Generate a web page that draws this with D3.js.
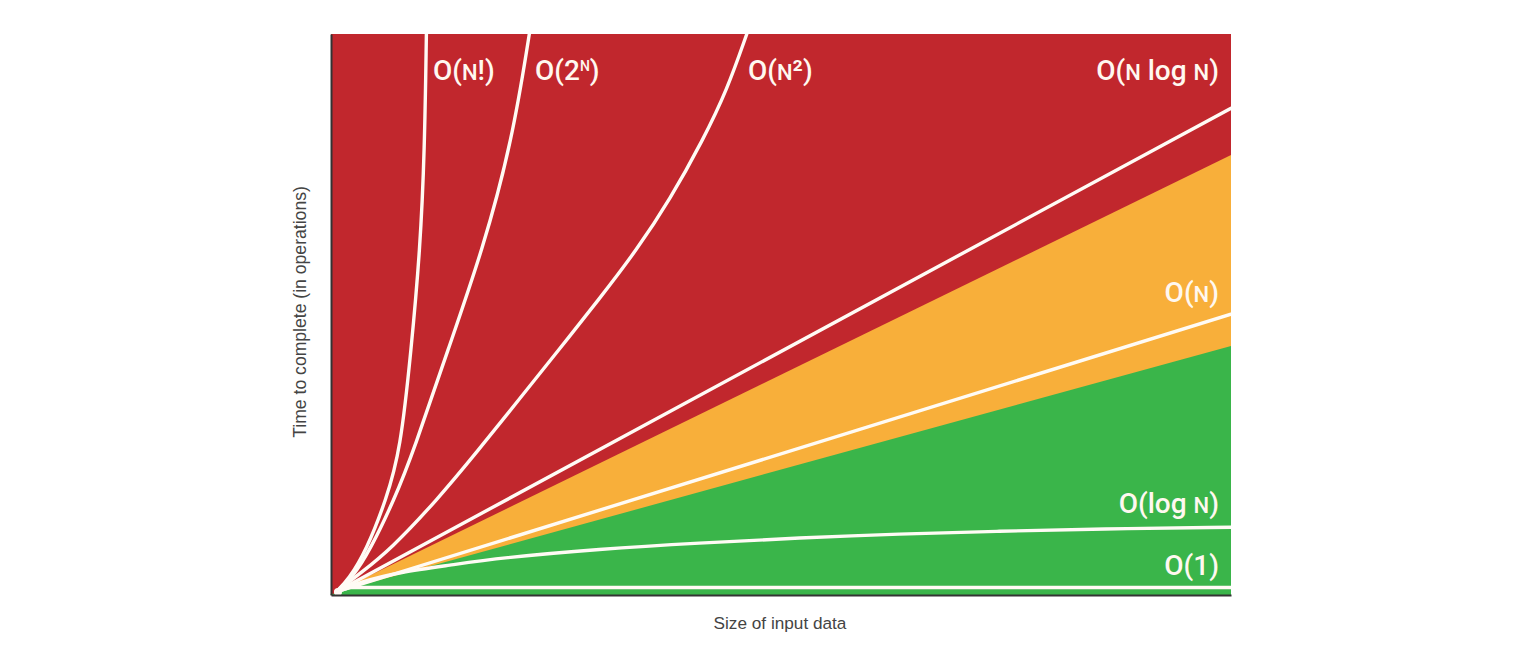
<!DOCTYPE html>
<html><head><meta charset="utf-8">
<script src="https://cdn.jsdelivr.net/npm/d3@7"></script>
<style>html,body{margin:0;padding:0;background:#fff;}svg{display:block;}</style>
</head><body>
<svg id="chart" width="1536" height="666"></svg>
<script>
// Data (x: relative input size 0-100, y: relative operations 0-100)
const bandBoundaries = [ // straight boundaries of coloured zones at x=100
  {name: "red/orange", end: 78.3},
  {name: "orange/green", end: 44.1}
];
const curveNames = ["O(N!)", "O(2^N)", "O(N^2)", "O(N log N)", "O(N)", "O(log N)", "O(1)"];
const factorialPts = [[0,0],[1.4,2.2],[3.4,7.5],[5.6,16.5],[7.2,25.4],[8.4,43.4],[9.4,61.3],[9.9,79.2],[10.1,100]];
const exponentialPts = [[0,0],[1.8,2.5],[3.8,7.5],[6.5,16.5],[8.7,25.4],[12.5,43.4],[16.4,61.3],[19.7,81.0],[21.6,100]];
const quadraticPts = [[0,0],[2.9,3.6],[6.0,7.5],[11.3,16.5],[15.9,25.4],[20.4,34.4],[24.9,43.4],[29.5,52.7],[33.6,61.3],[37.3,70.3],[41.0,81.0],[43.7,90.0],[45.9,100]];
const nlognPts = [[0,0],[100,86.7]];
const linearPts = [[0,0],[100,49.8]];
const logPts = [[0,0],[2.7,1.8],[7.2,3.6],[12.7,4.8],[18.3,6.1],[29.4,7.7],[40.6,8.8],[51.8,9.7],[62.9,10.4],[74.1,10.9],[85.3,11.3],[100,11.6]];
const constantPts = [[0,0],[1.5,0.8],[100,0.8]];

const svg = d3.select("#chart");
const x = d3.scaleLinear().domain([0,100]).range([336,1231]);
const y = d3.scaleLinear().domain([0,100]).range([592,34]);
const plotLeft = 331, plotRight = 1231, plotTop = 34, plotBottom = 595;

const RED = "#C1272D", ORANGE = "#F8AF3A", GREEN = "#3AB54A";

svg.append("rect").attr("x", plotLeft).attr("y", plotTop)
  .attr("width", plotRight - plotLeft).attr("height", plotBottom - plotTop).attr("fill", RED);

const zoneArea = d3.area().x(d => x(d[0])).y0(plotBottom).y1(d => y(d[1]));
svg.append("path").datum([[0,0],[100,bandBoundaries[0].end]]).attr("d", zoneArea).attr("fill", ORANGE);
svg.append("path").datum([[0,0],[100,bandBoundaries[1].end]]).attr("d", zoneArea).attr("fill", GREEN);
svg.append("path").datum([[-0.6,-0.3],[100,-0.3]]).attr("d", zoneArea).attr("fill", GREEN);

const smooth = d3.line().x(d => x(d[0])).y(d => y(d[1])).curve(d3.curveBasis);
const straight = d3.line().x(d => x(d[0])).y(d => y(d[1]));
svg.append("clipPath").attr("id","clip").append("rect")
  .attr("x", plotLeft).attr("y", plotTop).attr("width", plotRight-plotLeft).attr("height", plotBottom-plotTop);
const curves = [
  {pts: factorialPts, gen: smooth}, {pts: exponentialPts, gen: smooth}, {pts: quadraticPts, gen: smooth},
  {pts: nlognPts, gen: straight}, {pts: linearPts, gen: straight}, {pts: logPts, gen: smooth},
  {pts: constantPts, gen: straight}
];
svg.append("g").attr("clip-path","url(#clip)").selectAll("path").data(curves).join("path")
  .attr("d", d => d.gen(d.pts)).attr("fill","none").attr("stroke","#FFFBF5").attr("stroke-width",3.4)
  .attr("stroke-linecap","round").attr("stroke-linejoin","round");
svg.append("circle").attr("cx", x(0)+2).attr("cy", y(0)).attr("r", 4).attr("fill","#FFFBF5");

svg.append("g").attr("transform", `translate(${plotLeft},0)`)
  .call(d3.axisLeft(d3.scaleLinear().range([plotTop, plotBottom])).tickValues([]).tickSizeOuter(0))
  .select(".domain").attr("stroke","#333").attr("stroke-width",2);
svg.append("g").attr("transform", `translate(0,${plotBottom})`)
  .call(d3.axisBottom(d3.scaleLinear().range([plotLeft, plotRight])).tickValues([]).tickSizeOuter(0))
  .select(".domain").attr("stroke","#333").attr("stroke-width",2);

const font = "Roboto, 'Noto Sans', sans-serif";
function label(parts, px, py, anchor) {
  const t = svg.append("text").attr("x", px).attr("y", py).attr("text-anchor", anchor)
    .attr("font-family", font).attr("font-size", 28).attr("font-weight", 500).attr("fill", "#FFF8F0");
  parts.forEach(p => {
    const s = t.append("tspan").text(p.t);
    if (p.small) s.attr("font-size", 22);
    if (p.sup) s.attr("font-size", 14).attr("baseline-shift", "9");
  });
}
label([{t:"O("},{t:"N",small:true},{t:"!)"}], 433, 80, "start");
label([{t:"O(2"},{t:"N",sup:true},{t:")"}], 535, 80, "start");
label([{t:"O("},{t:"N",small:true},{t:"²"},{t:")"}], 748, 80, "start");
label([{t:"O("},{t:"N",small:true},{t:" log "},{t:"N",small:true},{t:")"}], 1219, 80, "end");
label([{t:"O("},{t:"N",small:true},{t:")"}], 1219, 302, "end");
label([{t:"O(log "},{t:"N",small:true},{t:")"}], 1219, 513, "end");
label([{t:"O(1)"}], 1219, 575, "end");

const axisFont = "'Liberation Sans', Arial, sans-serif";
svg.append("text").attr("x", 780).attr("y", 629).attr("text-anchor","middle")
  .attr("font-family", axisFont).attr("font-size", 17.2).attr("fill","#444").text("Size of input data");
svg.append("text").attr("transform","translate(306,312) rotate(-90)").attr("text-anchor","middle")
  .attr("font-family", axisFont).attr("font-size", 17.6).attr("fill","#444").text("Time to complete (in operations)");
</script>
</body></html>
